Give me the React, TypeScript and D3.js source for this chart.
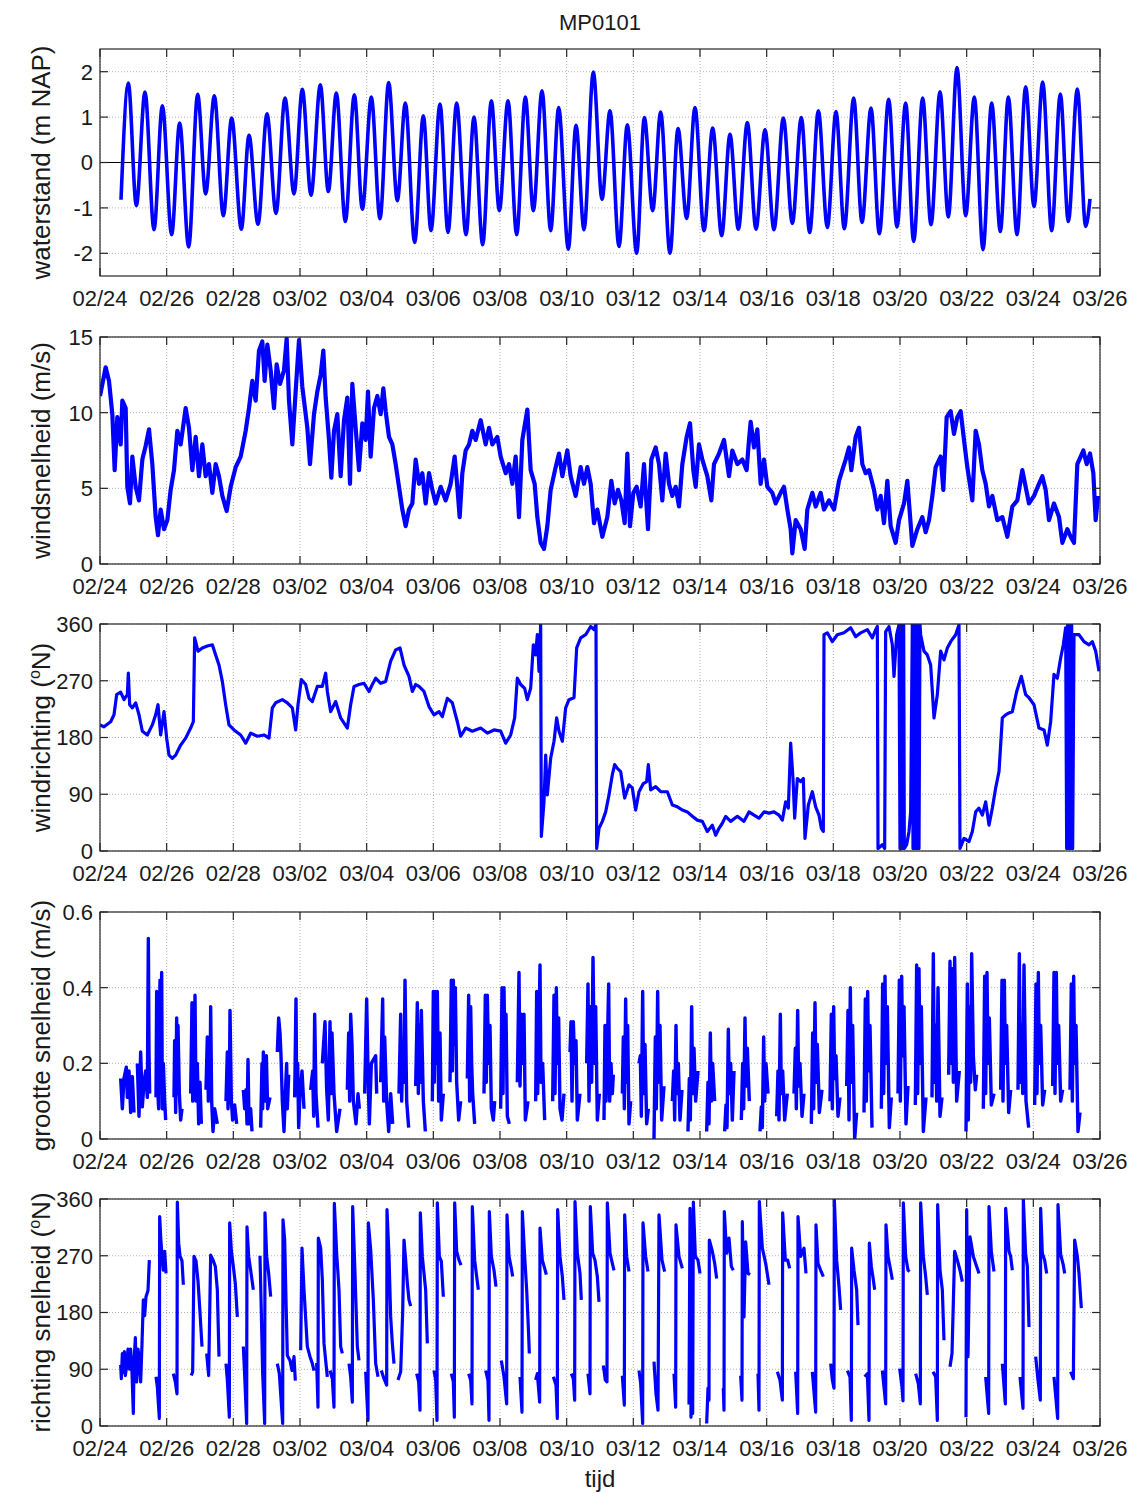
import React from "react";
import * as d3 from "d3";

type Pt = [number, number] | null;

// time axis: days after 02/24 00:00
const xTickDays = [0, 2, 4, 6, 8, 10, 12, 14, 16, 18, 20, 22, 24, 26, 28, 30];
const xTickLabels = ["02/24", "02/26", "02/28", "03/02", "03/04", "03/06", "03/08", "03/10",
  "03/12", "03/14", "03/16", "03/18", "03/20", "03/22", "03/24", "03/26"];

const waterTicks = [-2, -1, 0, 1, 2];
const windSpeedTicks = [0, 5, 10, 15];
const dirTicks = [0, 90, 180, 270, 360];
const curSpeedTicks = [0, 0.2, 0.4, 0.6];

// high / low waters [day, m NAP]
const waterLevel: Pt[] = [
  [0.63, -0.82], [0.85, 1.75], [1.09, -0.95], [1.35, 1.55], [1.62, -1.48], [1.87, 1.25], [2.15, -1.59],
  [2.39, 0.87], [2.66, -1.86], [2.93, 1.5], [3.17, -0.69], [3.43, 1.47], [3.7, -1.17], [3.95, 0.98],
  [4.24, -1.47], [4.47, 0.6], [4.74, -1.36], [5.01, 1.07], [5.28, -1.12], [5.55, 1.42], [5.82, -0.69],
  [6.07, 1.61], [6.33, -0.72], [6.61, 1.71], [6.85, -0.64], [7.09, 1.53], [7.36, -1.3], [7.63, 1.49],
  [7.87, -1.03], [8.14, 1.44], [8.4, -1.24], [8.66, 1.76], [8.92, -0.84], [9.16, 1.31], [9.44, -1.76],
  [9.7, 1.03], [9.93, -1.5], [10.2, 1.29], [10.44, -1.54], [10.7, 1.31], [10.98, -1.59], [11.22, 1.0],
  [11.48, -1.81], [11.74, 1.36], [11.98, -1.06], [12.24, 1.36], [12.5, -1.59], [12.76, 1.44], [13.0, -1.06],
  [13.26, 1.58], [13.52, -1.5], [13.76, 1.21], [14.05, -1.91], [14.28, 0.82], [14.52, -1.48], [14.8, 1.99],
  [15.06, -0.81], [15.3, 1.14], [15.57, -1.85], [15.82, 0.83], [16.1, -2.0], [16.33, 0.99], [16.58, -1.06],
  [16.82, 1.11], [17.1, -2.0], [17.34, 0.75], [17.6, -1.23], [17.85, 1.21], [18.12, -1.5], [18.38, 0.76],
  [18.65, -1.61], [18.9, 0.62], [19.15, -1.47], [19.42, 0.88], [19.68, -1.47], [19.95, 0.72], [20.22, -1.48],
  [20.5, 0.98], [20.77, -1.34], [21.04, 0.99], [21.29, -1.54], [21.55, 1.14], [21.82, -1.43], [22.08, 1.12],
  [22.33, -1.46], [22.61, 1.42], [22.86, -1.32], [23.13, 1.2], [23.38, -1.57], [23.66, 1.39], [23.91, -1.42],
  [24.17, 1.31], [24.41, -1.74], [24.68, 1.42], [24.93, -1.37], [25.2, 1.56], [25.45, -1.2], [25.71, 2.09],
  [25.97, -1.17], [26.23, 1.44], [26.49, -1.92], [26.75, 1.31], [27.01, -1.52], [27.25, 1.44], [27.51, -1.59],
  [27.77, 1.67], [28.02, -0.97], [28.28, 1.77], [28.55, -1.5], [28.81, 1.51], [29.05, -1.3], [29.32, 1.62],
  [29.57, -1.41], [29.7, -0.8],
];

// wind speed [day, m/s]
const windSpeed: Pt[] = [
  [0.0, 11.1], [0.17, 13.0], [0.27, 12.1], [0.37, 9.9], [0.44, 6.2], [0.52, 9.7], [0.62, 7.9], [0.67, 10.8],
  [0.77, 10.3], [0.82, 5.1], [0.9, 4.0], [0.97, 7.1], [1.07, 5.1], [1.17, 4.2], [1.27, 6.9], [1.37, 7.8],
  [1.47, 8.9], [1.57, 6.6], [1.67, 3.1], [1.74, 1.9], [1.82, 3.6], [1.92, 2.3], [2.02, 2.9], [2.12, 4.9],
  [2.22, 6.2], [2.32, 8.8], [2.42, 7.9], [2.57, 10.3], [2.67, 9.0], [2.77, 6.2], [2.87, 8.4], [2.97, 5.8],
  [3.07, 7.9], [3.17, 5.8], [3.27, 6.6], [3.37, 4.7], [3.47, 6.6], [3.57, 5.8], [3.67, 4.5], [3.8, 3.5],
  [3.92, 5.1], [4.07, 6.4], [4.22, 7.1], [4.37, 8.8], [4.47, 10.3], [4.57, 12.1], [4.67, 10.8], [4.77, 14.1],
  [4.87, 14.7], [4.94, 12.1], [5.02, 14.5], [5.12, 12.8], [5.22, 10.3], [5.3, 13.2], [5.4, 11.9], [5.52, 12.8],
  [5.6, 14.9], [5.67, 10.8], [5.77, 7.9], [5.87, 11.4], [5.97, 14.8], [6.07, 11.7], [6.22, 9.0], [6.3, 6.6],
  [6.42, 9.9], [6.52, 11.4], [6.62, 12.5], [6.7, 14.1], [6.77, 11.0], [6.87, 8.2], [6.94, 5.7], [7.02, 8.8],
  [7.12, 9.9], [7.22, 5.8], [7.32, 9.5], [7.42, 11.0], [7.5, 5.3], [7.57, 11.9], [7.67, 9.0], [7.77, 6.2],
  [7.87, 9.3], [7.97, 8.2], [8.04, 11.4], [8.12, 7.1], [8.22, 10.3], [8.32, 11.1], [8.42, 9.9], [8.5, 11.6],
  [8.57, 10.1], [8.67, 8.4], [8.77, 7.9], [8.87, 6.6], [8.97, 5.1], [9.07, 3.6], [9.17, 2.5], [9.27, 3.6],
  [9.37, 4.0], [9.47, 6.9], [9.57, 5.3], [9.67, 6.0], [9.77, 4.0], [9.87, 6.0], [9.97, 4.9], [10.07, 4.0],
  [10.22, 5.1], [10.37, 4.2], [10.52, 5.3], [10.64, 7.1], [10.72, 5.1], [10.79, 3.1], [10.87, 6.0], [10.97, 7.5],
  [11.07, 7.9], [11.17, 8.8], [11.27, 8.2], [11.42, 9.5], [11.57, 7.9], [11.67, 9.0], [11.77, 7.9], [11.92, 8.4],
  [12.02, 7.1], [12.17, 6.0], [12.27, 6.6], [12.37, 5.3], [12.47, 7.1], [12.57, 3.1], [12.67, 8.2], [12.82, 10.2],
  [12.92, 6.2], [13.04, 5.3], [13.12, 3.1], [13.22, 1.4], [13.32, 1.0], [13.42, 2.5], [13.52, 4.9], [13.67, 6.4],
  [13.77, 7.3], [13.87, 5.8], [14.02, 7.5], [14.12, 5.8], [14.27, 4.5], [14.42, 6.4], [14.52, 5.3], [14.62, 6.4],
  [14.72, 5.3], [14.82, 2.7], [14.92, 3.6], [15.07, 1.8], [15.22, 3.1], [15.34, 5.5], [15.44, 4.0], [15.54, 4.9],
  [15.64, 4.2], [15.74, 2.7], [15.82, 7.3], [15.9, 2.5], [16.0, 4.7], [16.1, 5.1], [16.22, 3.8], [16.32, 6.6],
  [16.44, 2.3], [16.54, 6.9], [16.67, 7.7], [16.77, 6.6], [16.87, 4.2], [16.97, 7.3], [17.07, 5.3], [17.17, 4.5],
  [17.27, 5.1], [17.37, 3.8], [17.47, 6.6], [17.6, 8.4], [17.7, 9.3], [17.8, 6.2], [17.87, 5.1], [17.97, 7.9],
  [18.07, 6.9], [18.22, 5.8], [18.34, 4.2], [18.42, 6.6], [18.57, 7.3], [18.72, 8.2], [18.87, 5.8], [18.97, 7.5],
  [19.12, 6.6], [19.27, 6.9], [19.4, 6.2], [19.47, 8.2], [19.52, 9.4], [19.62, 7.7], [19.72, 8.9], [19.82, 5.3],
  [19.92, 6.9], [20.02, 5.1], [20.17, 4.7], [20.27, 4.0], [20.42, 4.7], [20.52, 5.1], [20.62, 3.6], [20.72, 2.3],
  [20.77, 0.7], [20.87, 2.9], [21.02, 2.3], [21.14, 1.0], [21.22, 3.6], [21.37, 4.7], [21.47, 3.8], [21.62, 4.7],
  [21.72, 3.6], [21.87, 4.2], [22.02, 3.6], [22.17, 5.5], [22.27, 6.2], [22.37, 6.9], [22.47, 7.7], [22.54, 6.2],
  [22.67, 8.4], [22.77, 9.0], [22.87, 6.6], [22.97, 6.0], [23.07, 6.2], [23.22, 4.9], [23.32, 3.6], [23.42, 4.5],
  [23.52, 2.7], [23.62, 5.5], [23.72, 2.5], [23.87, 1.4], [23.97, 2.9], [24.12, 4.0], [24.22, 5.5], [24.37, 1.2],
  [24.52, 2.3], [24.67, 3.1], [24.77, 2.1], [24.87, 2.9], [24.97, 4.5], [25.07, 6.4], [25.22, 7.1], [25.3, 4.9],
  [25.4, 9.7], [25.52, 10.1], [25.62, 8.6], [25.72, 9.7], [25.82, 10.1], [25.92, 8.2], [26.02, 6.4], [26.17, 4.2],
  [26.27, 8.8], [26.37, 7.9], [26.47, 6.2], [26.57, 5.3], [26.67, 3.8], [26.77, 4.5], [26.92, 2.9], [27.07, 3.1],
  [27.22, 1.8], [27.37, 3.8], [27.52, 4.2], [27.67, 6.2], [27.77, 5.1], [27.87, 4.0], [28.02, 4.5], [28.17, 5.3],
  [28.27, 5.8], [28.37, 4.9], [28.47, 2.9], [28.62, 4.0], [28.77, 3.1], [28.87, 1.4], [29.02, 2.3], [29.12, 1.8],
  [29.22, 1.4], [29.32, 6.6], [29.42, 7.1], [29.5, 7.5], [29.6, 6.6], [29.7, 7.3], [29.8, 6.0], [29.87, 2.9],
  [29.94, 4.5],
];

// wind direction [day, degrees N]
const windDir: Pt[] = [
  [0.0, 200], [0.12, 197], [0.32, 205], [0.42, 216], [0.5, 248], [0.62, 252], [0.72, 240], [0.82, 248], [0.85, 282],
  [0.89, 232], [0.97, 227], [1.07, 235], [1.17, 216], [1.27, 190], [1.42, 184], [1.57, 200], [1.67, 216], [1.74, 232],
  [1.82, 184], [1.92, 221], [2.0, 179], [2.07, 152], [2.17, 147], [2.27, 152], [2.42, 168], [2.57, 179], [2.72, 195],
  [2.8, 205], [2.84, 338], [2.94, 317], [3.07, 322], [3.22, 325], [3.37, 327], [3.47, 311], [3.57, 295], [3.67, 269],
  [3.77, 232], [3.87, 200], [4.02, 192], [4.22, 184], [4.37, 171], [4.52, 187], [4.72, 182], [4.92, 184], [5.07, 179],
  [5.17, 227], [5.27, 235], [5.47, 240], [5.62, 235], [5.77, 227], [5.87, 192], [5.94, 232], [6.04, 272], [6.17, 264],
  [6.27, 242], [6.37, 237], [6.52, 261], [6.67, 261], [6.77, 282], [6.82, 253], [6.92, 221], [7.07, 237], [7.22, 211],
  [7.42, 195], [7.52, 232], [7.62, 261], [7.77, 264], [7.92, 266], [8.07, 253], [8.17, 264], [8.27, 274], [8.42, 266],
  [8.57, 269], [8.72, 301], [8.87, 319], [9.0, 322], [9.12, 295], [9.27, 277], [9.37, 253], [9.47, 264], [9.57, 261],
  [9.72, 253], [9.87, 229], [10.02, 216], [10.17, 221], [10.27, 213], [10.42, 242], [10.57, 235], [10.72, 205],
  [10.82, 182], [10.97, 195], [11.17, 190], [11.42, 195], [11.62, 187], [11.82, 192], [12.02, 190], [12.17, 171],
  [12.32, 184], [12.44, 211], [12.52, 274], [12.62, 264], [12.74, 258], [12.82, 240], [12.92, 258], [13.0, 327],
  [13.07, 311], [13.12, 343], [13.17, 285], [13.22, 359], [13.24, 23], [13.32, 78], [13.37, 152], [13.42, 89],
  [13.52, 147], [13.62, 174], [13.7, 211], [13.77, 190], [13.87, 174], [13.97, 227], [14.07, 240], [14.22, 243],
  [14.3, 322], [14.42, 338], [14.57, 343], [14.72, 356], [14.82, 351], [14.88, 359], [14.9, 4], [14.97, 36],
  [15.07, 47], [15.17, 62], [15.27, 89], [15.37, 121], [15.44, 137], [15.52, 131], [15.62, 126], [15.74, 84],
  [15.87, 105], [15.97, 100], [16.07, 65], [16.17, 94], [16.3, 107], [16.4, 110], [16.45, 137], [16.52, 97],
  [16.67, 102], [16.82, 94], [17.02, 94], [17.17, 73], [17.32, 70], [17.47, 65], [17.62, 62], [17.77, 55],
  [17.92, 49], [18.07, 47], [18.22, 31], [18.37, 41], [18.47, 25], [18.57, 36], [18.67, 44], [18.77, 55],
  [18.92, 47], [19.12, 55], [19.32, 47], [19.47, 62], [19.62, 57], [19.77, 52], [19.92, 62], [20.07, 60],
  [20.22, 62], [20.37, 57], [20.47, 49], [20.57, 78], [20.65, 68], [20.72, 171], [20.79, 115], [20.84, 52],
  [20.92, 115], [21.02, 110], [21.1, 115], [21.15, 20], [21.25, 73], [21.37, 94], [21.47, 70], [21.57, 57],
  [21.64, 36], [21.7, 31], [21.72, 343], [21.82, 346], [21.97, 332], [22.12, 343], [22.32, 346], [22.52, 354],
  [22.67, 340], [22.82, 346], [23.02, 351], [23.17, 338], [23.27, 351], [23.32, 356], [23.34, 4], [23.47, 10],
  [23.54, 4], [23.57, 348], [23.67, 356], [23.77, 327], [23.82, 277], [23.9, 343], [23.97, 359], [24.0, 4],
  [24.03, 359], [24.05, 4], [24.07, 359], [24.09, 4], [24.11, 359], [24.13, 4], [24.2, 10], [24.27, 31],
  [24.32, 62], [24.37, 359], [24.39, 4], [24.42, 359], [24.45, 4], [24.48, 359], [24.51, 4], [24.54, 359],
  [24.57, 4], [24.6, 359], [24.62, 343], [24.72, 317], [24.82, 311], [24.92, 295], [25.02, 211], [25.12, 248],
  [25.22, 317], [25.32, 303], [25.42, 322], [25.52, 332], [25.67, 343], [25.77, 359], [25.8, 4], [25.92, 20],
  [26.07, 15], [26.17, 31], [26.27, 62], [26.37, 68], [26.47, 57], [26.57, 78], [26.67, 41], [26.77, 68],
  [26.87, 100], [26.97, 126], [27.07, 211], [27.17, 216], [27.27, 219], [27.37, 221], [27.5, 253], [27.64, 277],
  [27.77, 248], [27.87, 243], [28.02, 232], [28.17, 195], [28.32, 192], [28.42, 168], [28.52, 205], [28.62, 280],
  [28.72, 274], [28.82, 306], [28.9, 327], [28.97, 354], [29.0, 4], [29.03, 359], [29.06, 4], [29.09, 359],
  [29.12, 4], [29.15, 359], [29.18, 4], [29.22, 343], [29.37, 343], [29.52, 332], [29.67, 327], [29.77, 332],
  [29.87, 317], [29.97, 285],
];

// current speed [day, m/s], null = no data
const currentSpeed: Pt[] = [
  [0.62, 0.16], [0.67, 0.08], [0.72, 0.16], [0.79, 0.19], [0.82, 0.11], [0.87, 0.18], [0.92, 0.07], [0.97, 0.165], [1.02, 0.07], null,
  [1.12, 0.2], [1.17, 0.06], [1.22, 0.23], [1.27, 0.085], [1.32, 0.15], [1.37, 0.18], [1.42, 0.11], [1.45, 0.53], [1.47, 0.23], [1.49, 0.12], null,
  [1.68, 0.11], [1.7, 0.39], [1.73, 0.13], [1.76, 0.08], [1.8, 0.42], [1.83, 0.15], [1.85, 0.44], [1.87, 0.08], [1.9, 0.2], [1.94, 0.1], [1.97, 0.05], null,
  [2.22, 0.11], [2.24, 0.26], [2.27, 0.07], [2.3, 0.32], [2.32, 0.12], [2.34, 0.3], [2.38, 0.12], [2.42, 0.05], [2.46, 0.08], null,
  [2.72, 0.12], [2.76, 0.36], [2.78, 0.1], [2.8, 0.27], [2.83, 0.12], [2.85, 0.38], [2.88, 0.1], [2.92, 0.2], [2.96, 0.04], [3.0, 0.15], [3.04, 0.04], null,
  [3.18, 0.13], [3.22, 0.27], [3.25, 0.1], [3.27, 0.23], [3.3, 0.12], [3.32, 0.35], [3.35, 0.1], [3.39, 0.02], [3.44, 0.08], [3.52, 0.04], null,
  [3.78, 0.1], [3.82, 0.23], [3.84, 0.08], [3.86, 0.16], [3.88, 0.1], [3.9, 0.34], [3.94, 0.1], [3.98, 0.05], [4.04, 0.09], [4.1, 0.04], null,
  [4.3, 0.13], [4.34, 0.08], [4.38, 0.13], [4.41, 0.04], [4.44, 0.21], [4.47, 0.04], [4.52, 0.08], [4.56, 0.02], null,
  [4.82, 0.03], [4.86, 0.2], [4.88, 0.08], [4.9, 0.23], [4.95, 0.1], [4.99, 0.22], [5.03, 0.08], [5.1, 0.11], null,
  [5.32, 0.23], [5.36, 0.32], [5.4, 0.28], [5.43, 0.22], [5.47, 0.1], [5.52, 0.02], [5.57, 0.14], [5.6, 0.2], [5.62, 0.08], [5.66, 0.17], null,
  [5.84, 0.11], [5.88, 0.37], [5.9, 0.12], [5.93, 0.2], [5.96, 0.03], [6.0, 0.12], [6.06, 0.18], [6.12, 0.08], null,
  [6.32, 0.13], [6.38, 0.18], [6.41, 0.06], [6.44, 0.33], [6.48, 0.12], [6.54, 0.03], null,
  [6.67, 0.2], [6.75, 0.31], [6.8, 0.13], [6.85, 0.05], [6.9, 0.31], [6.93, 0.12], [6.96, 0.28], [7.02, 0.12], [7.1, 0.02], [7.2, 0.08], null,
  [7.42, 0.13], [7.46, 0.28], [7.49, 0.1], [7.52, 0.33], [7.56, 0.25], [7.6, 0.1], [7.68, 0.04], [7.74, 0.12], [7.78, 0.08], null,
  [7.94, 0.12], [8.0, 0.37], [8.04, 0.18], [8.08, 0.04], [8.14, 0.2], [8.27, 0.22], [8.3, 0.12], null,
  [8.42, 0.15], [8.48, 0.37], [8.51, 0.1], [8.54, 0.27], [8.6, 0.1], [8.66, 0.02], [8.72, 0.12], [8.78, 0.04], null,
  [8.97, 0.12], [9.02, 0.33], [9.05, 0.1], [9.08, 0.22], [9.12, 0.15], [9.15, 0.42], [9.2, 0.1], [9.26, 0.03], null,
  [9.47, 0.14], [9.52, 0.36], [9.55, 0.12], [9.58, 0.3], [9.61, 0.15], [9.64, 0.34], [9.7, 0.1], [9.76, 0.02], null,
  [9.97, 0.1], [10.0, 0.39], [10.03, 0.15], [10.06, 0.39], [10.09, 0.2], [10.12, 0.39], [10.16, 0.1], [10.2, 0.28], [10.24, 0.05], [10.3, 0.12], null,
  [10.5, 0.15], [10.54, 0.42], [10.57, 0.18], [10.6, 0.42], [10.63, 0.25], [10.66, 0.4], [10.7, 0.15], [10.76, 0.05], [10.82, 0.1], null,
  [11.02, 0.16], [11.06, 0.38], [11.09, 0.1], [11.12, 0.35], [11.15, 0.2], [11.18, 0.12], [11.24, 0.04], null,
  [11.52, 0.12], [11.56, 0.38], [11.59, 0.15], [11.62, 0.38], [11.66, 0.2], [11.7, 0.3], [11.74, 0.08], [11.8, 0.05], [11.84, 0.1], null,
  [12.02, 0.08], [12.06, 0.4], [12.09, 0.12], [12.12, 0.4], [12.15, 0.2], [12.18, 0.33], [12.22, 0.06], [12.28, 0.04], null,
  [12.52, 0.15], [12.57, 0.44], [12.6, 0.14], [12.64, 0.33], [12.68, 0.2], [12.72, 0.33], [12.76, 0.05], [12.84, 0.1], null,
  [13.07, 0.1], [13.1, 0.39], [13.13, 0.12], [13.17, 0.3], [13.2, 0.46], [13.23, 0.15], [13.28, 0.2], [13.34, 0.05], null,
  [13.58, 0.1], [13.62, 0.38], [13.65, 0.12], [13.69, 0.4], [13.72, 0.2], [13.76, 0.32], [13.8, 0.08], [13.86, 0.05], [13.92, 0.12], null,
  [14.1, 0.23], [14.13, 0.31], [14.16, 0.1], [14.2, 0.31], [14.24, 0.2], [14.28, 0.26], [14.32, 0.05], [14.4, 0.12], null,
  [14.6, 0.2], [14.64, 0.41], [14.67, 0.1], [14.71, 0.35], [14.75, 0.15], [14.79, 0.48], [14.83, 0.2], [14.87, 0.35], [14.92, 0.05], [14.98, 0.12], null,
  [15.12, 0.05], [15.15, 0.3], [15.18, 0.1], [15.22, 0.24], [15.26, 0.41], [15.29, 0.1], [15.33, 0.2], [15.37, 0.12], [15.4, 0.17], null,
  [15.67, 0.12], [15.7, 0.27], [15.73, 0.08], [15.77, 0.37], [15.8, 0.15], [15.83, 0.3], [15.87, 0.04], [15.92, 0.1], null,
  [16.17, 0.2], [16.21, 0.22], [16.24, 0.06], [16.28, 0.39], [16.31, 0.12], [16.35, 0.25], [16.4, 0.04], [16.45, 0.08], null,
  [16.62, 0.0], [16.66, 0.27], [16.69, 0.08], [16.73, 0.39], [16.76, 0.15], [16.8, 0.3], [16.85, 0.05], [16.92, 0.14], null,
  [17.17, 0.1], [17.21, 0.18], [17.24, 0.05], [17.28, 0.3], [17.31, 0.12], [17.35, 0.2], [17.4, 0.05], [17.46, 0.13], null,
  [17.64, 0.02], [17.68, 0.16], [17.71, 0.05], [17.75, 0.35], [17.78, 0.12], [17.82, 0.24], [17.87, 0.1], [17.94, 0.18], null,
  [18.2, 0.02], [18.24, 0.15], [18.27, 0.04], [18.31, 0.28], [18.34, 0.1], [18.38, 0.2], [18.44, 0.1], null,
  [18.74, 0.02], [18.78, 0.09], [18.81, 0.03], [18.85, 0.29], [18.88, 0.12], [18.92, 0.2], [18.97, 0.05], [19.02, 0.18], null,
  [19.24, 0.05], [19.28, 0.2], [19.31, 0.08], [19.35, 0.32], [19.38, 0.14], [19.42, 0.24], [19.48, 0.1], null,
  [19.8, 0.02], [19.84, 0.085], [19.87, 0.03], [19.91, 0.27], [19.94, 0.1], [19.98, 0.2], [20.04, 0.12], null,
  [20.3, 0.06], [20.34, 0.18], [20.37, 0.05], [20.41, 0.33], [20.44, 0.12], [20.48, 0.18], [20.54, 0.05], [20.62, 0.12], null,
  [20.82, 0.12], [20.86, 0.24], [20.89, 0.08], [20.93, 0.34], [20.96, 0.14], [21.0, 0.2], [21.06, 0.06], [21.12, 0.12], null,
  [21.34, 0.04], [21.38, 0.28], [21.41, 0.08], [21.45, 0.36], [21.48, 0.15], [21.52, 0.25], [21.58, 0.07], [21.66, 0.13], null,
  [21.9, 0.1], [21.94, 0.33], [21.97, 0.08], [22.01, 0.35], [22.04, 0.16], [22.08, 0.22], [22.14, 0.06], [22.2, 0.11], null,
  [22.4, 0.14], [22.44, 0.34], [22.47, 0.05], [22.51, 0.4], [22.54, 0.15], [22.58, 0.3], [22.64, 0.0], [22.7, 0.07], null,
  [22.92, 0.07], [22.96, 0.37], [22.99, 0.1], [23.03, 0.39], [23.06, 0.18], [23.1, 0.3], [23.16, 0.03], null,
  [23.44, 0.08], [23.48, 0.41], [23.51, 0.12], [23.55, 0.43], [23.58, 0.2], [23.62, 0.35], [23.68, 0.03], [23.74, 0.11], null,
  [23.94, 0.12], [23.98, 0.42], [24.01, 0.1], [24.05, 0.43], [24.08, 0.22], [24.12, 0.35], [24.18, 0.04], [24.24, 0.14], null,
  [24.46, 0.09], [24.5, 0.46], [24.53, 0.12], [24.57, 0.45], [24.6, 0.2], [24.64, 0.35], [24.7, 0.02], [24.78, 0.11], null,
  [24.96, 0.11], [25.0, 0.49], [25.03, 0.15], [25.07, 0.3], [25.1, 0.1], [25.14, 0.4], [25.2, 0.06], [25.26, 0.11], null,
  [25.46, 0.17], [25.5, 0.47], [25.53, 0.2], [25.57, 0.45], [25.6, 0.15], [25.64, 0.48], [25.7, 0.1], [25.78, 0.18], null,
  [25.98, 0.02], [26.02, 0.41], [26.05, 0.05], [26.09, 0.35], [26.12, 0.15], [26.15, 0.49], [26.2, 0.22], [26.26, 0.13], [26.3, 0.17], null,
  [26.5, 0.08], [26.54, 0.43], [26.57, 0.12], [26.61, 0.44], [26.64, 0.2], [26.68, 0.32], [26.74, 0.09], [26.82, 0.12], null,
  [27.02, 0.13], [27.06, 0.42], [27.09, 0.1], [27.13, 0.42], [27.16, 0.2], [27.2, 0.3], [27.26, 0.07], [27.32, 0.13], null,
  [27.54, 0.13], [27.58, 0.49], [27.61, 0.15], [27.65, 0.3], [27.68, 0.12], [27.72, 0.46], [27.78, 0.1], [27.86, 0.03], null,
  [28.04, 0.09], [28.08, 0.41], [28.11, 0.12], [28.15, 0.44], [28.18, 0.2], [28.22, 0.3], [28.28, 0.09], [28.34, 0.13], null,
  [28.58, 0.14], [28.62, 0.44], [28.65, 0.12], [28.69, 0.44], [28.72, 0.2], [28.76, 0.3], [28.82, 0.1], [28.88, 0.13], null,
  [29.1, 0.13], [29.14, 0.41], [29.17, 0.1], [29.21, 0.43], [29.24, 0.2], [29.28, 0.3], [29.34, 0.02], [29.4, 0.07],
];

// current direction [day, degrees N], null = no data
const currentDir: Pt[] = [
  [0.62, 97], [0.64, 75], [0.67, 115], [0.7, 85], [0.73, 118], [0.76, 80], [0.8, 95], [0.84, 122], [0.88, 90], [0.92, 122],
  [0.96, 85], [1.0, 20], [1.02, 100], [1.06, 140], [1.1, 70], [1.14, 122], [1.18, 105], [1.22, 70], [1.26, 130], [1.3, 200],
  [1.34, 175], [1.38, 205], [1.44, 215], [1.48, 263], null,
  [1.68, 78], [1.72, 62], [1.78, 12], [1.79, 332], [1.82, 300], [1.86, 269], [1.9, 247], [1.94, 277], [1.98, 242], null,
  [2.2, 83], [2.26, 70], [2.31, 51], [2.32, 355], [2.36, 290], [2.4, 270], [2.46, 262], [2.5, 224], null,
  [2.74, 80], [2.78, 86], [2.82, 269], [2.88, 262], [2.94, 230], [3.0, 180], [3.06, 126], null,
  [3.2, 115], [3.26, 80], [3.32, 271], [3.4, 262], [3.46, 253], [3.52, 216], [3.57, 110], null,
  [3.78, 99], [3.82, 73], [3.88, 14], [3.89, 322], [3.94, 279], [4.0, 253], [4.06, 226], [4.12, 173], null,
  [4.3, 126], [4.34, 80], [4.4, 4], [4.41, 316], [4.46, 269], [4.52, 247], [4.6, 216], null,
  [4.8, 270], [4.84, 180], [4.88, 83], [4.94, 4], [4.95, 338], [5.0, 269], [5.06, 242], [5.12, 205], null,
  [5.32, 99], [5.38, 83], [5.48, 4], [5.49, 327], [5.54, 295], [5.58, 200], [5.62, 112], [5.7, 104], [5.76, 88], [5.82, 110], [5.86, 72], null,
  [6.02, 120], [6.06, 282], [6.12, 216], [6.22, 126], [6.3, 110], [6.37, 99], [6.42, 88], null,
  [6.5, 100], [6.54, 30], [6.55, 298], [6.62, 282], [6.67, 232], [6.72, 131], [6.77, 104], [6.82, 78], null,
  [6.9, 88], [6.97, 75], [7.02, 30], [7.03, 353], [7.1, 274], [7.17, 216], [7.22, 126], [7.27, 115], null,
  [7.47, 99], [7.52, 78], [7.57, 38], [7.58, 348], [7.64, 258], [7.72, 126], [7.77, 104], null,
  [7.97, 86], [8.04, 9], [8.05, 322], [8.12, 280], [8.2, 200], [8.27, 99], [8.34, 78], null,
  [8.44, 88], [8.52, 75], [8.6, 65], [8.61, 343], [8.67, 269], [8.72, 173], [8.77, 131], [8.82, 99], null,
  [8.94, 73], [9.02, 86], [9.08, 180], [9.12, 295], [9.17, 263], [9.22, 226], [9.27, 200], [9.32, 190], null,
  [9.5, 83], [9.56, 70], [9.6, 25], [9.61, 338], [9.67, 269], [9.72, 242], [9.77, 216], [9.82, 131], null,
  [10.02, 88], [10.07, 73], [10.11, 9], [10.12, 354], [10.18, 269], [10.24, 261], [10.3, 205], null,
  [10.54, 83], [10.6, 70], [10.63, 14], [10.64, 354], [10.7, 277], [10.77, 263], [10.83, 255], null,
  [11.06, 83], [11.12, 73], [11.16, 35], [11.17, 348], [11.24, 263], [11.3, 237], [11.35, 216], null,
  [11.57, 88], [11.64, 72], [11.67, 9], [11.68, 340], [11.74, 269], [11.82, 247], [11.88, 221], null,
  [12.04, 104], [12.12, 78], [12.2, 35], [12.21, 335], [12.27, 269], [12.34, 250], [12.38, 237], null,
  [12.6, 78], [12.66, 22], [12.67, 340], [12.74, 269], [12.8, 216], [12.85, 157], [12.88, 115], null,
  [13.07, 73], [13.12, 83], [13.19, 38], [13.2, 314], [13.27, 263], [13.34, 250], [13.39, 240], null,
  [13.6, 78], [13.68, 65], [13.72, 12], [13.73, 343], [13.8, 269], [13.87, 237], [13.92, 200], null,
  [14.14, 83], [14.2, 75], [14.24, 41], [14.25, 356], [14.32, 274], [14.4, 242], [14.44, 200], null,
  [14.64, 83], [14.7, 51], [14.71, 348], [14.78, 274], [14.85, 263], [14.92, 237], [14.97, 197], null,
  [15.1, 96], [15.16, 73], [15.21, 70], [15.22, 354], [15.3, 274], [15.37, 258], [15.42, 247], null,
  [15.67, 80], [15.73, 33], [15.74, 335], [15.8, 269], [15.87, 245], null,
  [16.17, 88], [16.22, 68], [16.28, 4], [16.29, 322], [16.37, 269], [16.44, 245], null,
  [16.62, 102], [16.68, 51], [16.74, 25], [16.77, 335], [16.86, 263], [16.94, 245], null,
  [17.22, 83], [17.27, 30], [17.28, 319], [17.37, 269], [17.47, 250], null,
  [17.67, 34], [17.7, 345], [17.73, 14], [17.75, 332], [17.78, 20], [17.8, 355], [17.86, 269], [17.94, 263], [18.0, 242], null,
  [18.2, 4], [18.24, 60], [18.27, 41], [18.28, 295], [18.37, 277], [18.44, 258], [18.5, 234], null,
  [18.7, 60], [18.72, 25], [18.73, 340], [18.8, 274], [18.87, 298], [18.94, 253], [19.0, 247], null,
  [19.22, 80], [19.26, 41], [19.27, 324], [19.32, 173], [19.37, 292], [19.44, 242], [19.5, 240], null,
  [19.74, 83], [19.77, 25], [19.78, 356], [19.87, 282], [19.97, 258], [20.07, 224], null,
  [20.32, 86], [20.4, 73], [20.47, 41], [20.48, 338], [20.56, 263], [20.63, 263], [20.69, 250], null,
  [20.87, 86], [20.93, 20], [20.94, 332], [21.02, 269], [21.12, 282], [21.18, 242], null,
  [21.37, 86], [21.47, 22], [21.48, 319], [21.54, 258], [21.62, 247], [21.7, 237], null,
  [21.92, 99], [21.97, 73], [22.02, 60], [22.03, 359], [22.1, 263], [22.17, 221], [22.22, 184], null,
  [22.42, 88], [22.5, 78], [22.54, 9], [22.55, 282], [22.62, 247], [22.7, 216], [22.74, 160], null,
  [22.94, 78], [23.02, 83], [23.07, 9], [23.08, 290], [23.14, 253], [23.2, 232], [23.24, 216], null,
  [23.47, 88], [23.57, 35], [23.58, 319], [23.64, 269], [23.72, 247], [23.77, 232], null,
  [23.99, 91], [24.06, 62], [24.09, 40], [24.1, 354], [24.17, 269], [24.24, 247], [24.29, 245], null,
  [24.47, 83], [24.55, 67], [24.61, 35], [24.62, 354], [24.7, 269], [24.77, 237], [24.82, 208], null,
  [24.99, 86], [25.07, 78], [25.12, 9], [25.13, 351], [25.2, 247], [25.27, 216], [25.32, 136], null,
  [25.5, 94], [25.56, 115], [25.64, 277], [25.72, 263], [25.8, 247], [25.87, 229], null,
  [25.98, 14], [26.0, 343], [26.04, 110], [26.1, 300], [26.2, 269], [26.3, 253], [26.37, 242], null,
  [26.57, 78], [26.66, 20], [26.67, 348], [26.74, 277], [26.82, 245], null,
  [27.07, 99], [27.16, 35], [27.17, 345], [27.27, 277], [27.32, 269], [27.37, 247], null,
  [27.6, 78], [27.69, 28], [27.7, 359], [27.77, 272], [27.82, 253], [27.87, 157], null,
  [28.07, 110], [28.14, 73], [28.21, 41], [28.22, 345], [28.27, 274], [28.34, 263], [28.4, 242], null,
  [28.62, 78], [28.73, 12], [28.74, 351], [28.82, 272], [28.9, 255], [28.94, 242], null,
  [29.12, 86], [29.2, 75], [29.24, 295], [29.32, 269], [29.37, 242], [29.44, 187],
];

const FONT = "'Liberation Sans', Arial, Helvetica, sans-serif";
const plotLeft = 100;
const plotRight = 1100;
const panelTop = [49, 337, 624, 912, 1199];
const panelHeight = 227;

type Panel = {
  label: React.ReactNode;
  domain: [number, number];
  ticks: number[];
  fmt: (v: number) => string;
  data: Pt[];
  width: number;
  smooth?: boolean;
  zeroLine?: boolean;
};

const deg = (txt: string) => (
  <>
    {txt + " ("}
    <tspan dy={-10} fontSize={16}>o</tspan>
    <tspan dy={10}>N)</tspan>
  </>
);

export default function App() {
  const x = d3.scaleLinear().domain([0, 30]).range([plotLeft, plotRight]);

  const panels: Panel[] = [
    { label: "waterstand (m NAP)", domain: [-2.5, 2.5], ticks: waterTicks, fmt: (v) => String(v), data: waterLevel, width: 3.6, smooth: true, zeroLine: true },
    { label: "windsnelheid (m/s)", domain: [0, 15], ticks: windSpeedTicks, fmt: (v) => String(v), data: windSpeed, width: 4.2 },
    { label: deg("windrichting"), domain: [0, 360], ticks: dirTicks, fmt: (v) => String(v), data: windDir, width: 3.2 },
    { label: "grootte snelheid (m/s)", domain: [0, 0.6], ticks: curSpeedTicks, fmt: (v) => (v === 0 ? "0" : v.toFixed(1)), data: currentSpeed, width: 3.4 },
    { label: deg("richting snelheid"), domain: [0, 360], ticks: dirTicks, fmt: (v) => String(v), data: currentDir, width: 3.2 },
  ];

  return (
    <svg width={1143} height={1493} style={{ position: "absolute", left: 0, top: 0, background: "#fff" }} fontFamily={FONT}>
      <rect x={0} y={0} width={1143} height={1493} fill="#fff" />
      <text x={600} y={30} textAnchor="middle" fontSize={22} fill="#1a1a1a">MP0101</text>
      {panels.map((p, i) => {
        const top = panelTop[i];
        const bottom = top + panelHeight;
        const y = d3.scaleLinear().domain(p.domain).range([bottom, top]);
        const line = d3
          .line<Pt>()
          .defined((d) => d !== null)
          .x((d) => x((d as [number, number])[0]))
          .y((d) => y((d as [number, number])[1]))
          .curve(p.smooth ? d3.curveMonotoneX : d3.curveLinear);
        const midY = (top + bottom) / 2;
        return (
          <g key={i}>
            <defs>
              <clipPath id={`clip${i}`}>
                <rect x={plotLeft} y={top} width={plotRight - plotLeft} height={panelHeight} />
              </clipPath>
            </defs>
            {/* grid */}
            {xTickDays.map((d) => (
              <line key={`gx${d}`} x1={x(d)} x2={x(d)} y1={top} y2={bottom} stroke="#b4b4b4" strokeWidth={1} strokeDasharray="1 2" />
            ))}
            {p.ticks.map((t) => (
              <line key={`gy${t}`} x1={plotLeft} x2={plotRight} y1={y(t)} y2={y(t)} stroke="#b4b4b4" strokeWidth={1} strokeDasharray="1 2" />
            ))}
            {p.zeroLine && <line x1={plotLeft} x2={plotRight} y1={y(0)} y2={y(0)} stroke="#000" strokeWidth={1.2} />}
            <path d={line(p.data) ?? ""} fill="none" stroke="#0000ff" strokeWidth={p.width} strokeLinejoin="round" clipPath={`url(#clip${i})`} />
            {/* frame */}
            <rect x={plotLeft} y={top} width={plotRight - plotLeft} height={panelHeight} fill="none" stroke="#262626" strokeWidth={1.2} />
            {/* ticks */}
            {xTickDays.map((d) => (
              <g key={`tx${d}`}>
                <line x1={x(d)} x2={x(d)} y1={bottom} y2={bottom - 8} stroke="#262626" strokeWidth={1.2} />
                <line x1={x(d)} x2={x(d)} y1={top} y2={top + 8} stroke="#262626" strokeWidth={1.2} />
              </g>
            ))}
            {p.ticks.map((t) => (
              <g key={`ty${t}`}>
                <line x1={plotLeft} x2={plotLeft + 8} y1={y(t)} y2={y(t)} stroke="#262626" strokeWidth={1.2} />
                <line x1={plotRight} x2={plotRight - 8} y1={y(t)} y2={y(t)} stroke="#262626" strokeWidth={1.2} />
                <text x={plotLeft - 7} y={y(t)} dy="0.36em" textAnchor="end" fontSize={22} fill="#1a1a1a">{p.fmt(t)}</text>
              </g>
            ))}
            {xTickDays.map((d, k) => (
              <text key={`lx${d}`} x={x(d)} y={bottom + 30} textAnchor="middle" fontSize={22} fill="#1a1a1a">{xTickLabels[k]}</text>
            ))}
            <text transform={`translate(50,${midY}) rotate(-90)`} textAnchor="middle" fontSize={26} fill="#1a1a1a">{p.label}</text>
          </g>
        );
      })}
      <text x={600} y={1487} textAnchor="middle" fontSize={24} fill="#1a1a1a">tijd</text>
    </svg>
  );
}
